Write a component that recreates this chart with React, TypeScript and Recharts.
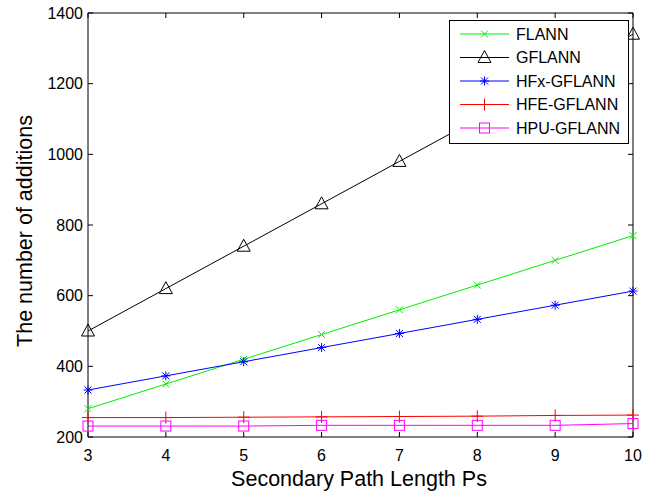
import React from "react"
import { LineChart, Line, XAxis, YAxis, Legend, ReferenceLine } from "recharts"

const ps = [3, 4, 5, 6, 7, 8, 9, 10]
const flann = [280, 350, 420, 490, 560, 630, 700, 770]
const gflann = [500, 620, 740, 860, 980, 1100, 1220, 1340]
const hfx = [333, 373, 413, 453, 493, 533, 573, 613]
const hfe = [255, 255, 256, 257, 258, 259, 261, 262]
const hpu = [231, 231, 231, 233, 233, 233, 233, 238]

const xTicks = [3, 4, 5, 6, 7, 8, 9, 10]
const yTicks = [200, 400, 600, 800, 1000, 1200, 1400]

const series = [
  { key: "flann", name: "FLANN", color: "#00ee00", marker: "x", values: flann },
  { key: "gflann", name: "GFLANN", color: "#000000", marker: "triangle", values: gflann },
  { key: "hfx", name: "HFx-GFLANN", color: "#0000ff", marker: "asterisk", values: hfx },
  { key: "hfe", name: "HFE-GFLANN", color: "#ff0000", marker: "plus", values: hfe },
  { key: "hpu", name: "HPU-GFLANN", color: "#ff00ff", marker: "square", values: hpu },
]

const data = ps.map((p, i) => {
  const row: any = { ps: p }
  series.forEach((s) => (row[s.key] = s.values[i]))
  return row
})

const W = 656
const H = 494
const PLOT_TOP = 13
const PLOT_LEFT = 88
const PLOT_RIGHT = 633
const PLOT_BOTTOM = 437
const FONT = "Arial, 'Liberation Sans', sans-serif"

function Marker({ kind, cx, cy, color }: any) {
  if (cx == null || cy == null) return null
  const p = { stroke: color, strokeWidth: 1, fill: "none" }
  switch (kind) {
    case "x":
      return (
        <g {...p}>
          <line x1={cx - 3.5} y1={cy - 3.5} x2={cx + 3.5} y2={cy + 3.5} />
          <line x1={cx - 3.5} y1={cy + 3.5} x2={cx + 3.5} y2={cy - 3.5} />
        </g>
      )
    case "triangle":
      return <polygon {...p} points={`${cx},${cy - 7} ${cx - 6.5},${cy + 5} ${cx + 6.5},${cy + 5}`} />
    case "asterisk":
      return (
        <g {...p}>
          <line x1={cx - 4.5} y1={cy} x2={cx + 4.5} y2={cy} />
          <line x1={cx} y1={cy - 4.5} x2={cx} y2={cy + 4.5} />
          <line x1={cx - 3.5} y1={cy - 3.5} x2={cx + 3.5} y2={cy + 3.5} />
          <line x1={cx - 3.5} y1={cy + 3.5} x2={cx + 3.5} y2={cy - 3.5} />
        </g>
      )
    case "plus":
      return (
        <g {...p}>
          <line x1={cx - 6} y1={cy} x2={cx + 6} y2={cy} />
          <line x1={cx} y1={cy - 6} x2={cx} y2={cy + 6} />
        </g>
      )
    case "square":
      return <rect {...p} x={cx - 5} y={cy - 5} width={10} height={10} />
  }
  return null
}

function XTick({ x, y, payload }: any) {
  return (
    <g>
      <line x1={x} y1={PLOT_BOTTOM} x2={x} y2={PLOT_BOTTOM - 5} stroke="#000" />
      <line x1={x} y1={PLOT_TOP} x2={x} y2={PLOT_TOP + 5} stroke="#000" />
      <text x={x} y={y + 24} textAnchor="middle" fontSize={16} fontFamily={FONT} fill="#000">
        {payload.value}
      </text>
    </g>
  )
}

function YTick({ x, y, payload }: any) {
  return (
    <g>
      <line x1={PLOT_LEFT} y1={y} x2={PLOT_LEFT + 5} y2={y} stroke="#000" />
      <line x1={PLOT_RIGHT} y1={y} x2={PLOT_RIGHT - 5} y2={y} stroke="#000" />
      <text x={x - 5} y={y + 5.5} textAnchor="end" fontSize={16} fontFamily={FONT} fill="#000">
        {payload.value}
      </text>
    </g>
  )
}

function LegendBox() {
  return (
    <svg width={180} height={124} style={{ display: "block" }}>
      <rect x={0.5} y={0.5} width={179} height={123} fill="#fff" stroke="#000" />
      {series.map((s, i) => {
        const cy = 14 + i * 23.5
        return (
          <g key={s.key}>
            <line x1={11} y1={cy} x2={60} y2={cy} stroke={s.color} />
            <Marker kind={s.marker} cx={35.5} cy={cy} color={s.color} />
            <text x={67} y={cy + 5.5} fontSize={16} fontFamily={FONT} fill="#000">
              {s.name}
            </text>
          </g>
        )
      })}
    </svg>
  )
}

export default function App() {
  return (
    <div style={{ position: "absolute", left: 0, top: 0, width: W, height: H, background: "#fff" }}>
      <LineChart
        width={W}
        height={H}
        data={data}
        margin={{ top: PLOT_TOP, right: W - PLOT_RIGHT, left: 0, bottom: 0 }}
      >
        <XAxis
          dataKey="ps"
          type="number"
          domain={[3, 10]}
          ticks={xTicks}
          height={H - PLOT_BOTTOM}
          tickSize={0}
          tickMargin={0}
          tick={<XTick />}
          axisLine={{ stroke: "#000" }}
          label={{
            content: () => (
              <text x={359} y={486} textAnchor="middle" fontSize={21.5} fontFamily={FONT} fill="#000">
                Secondary Path Length Ps
              </text>
            ),
          }}
        />
        <YAxis
          type="number"
          domain={[200, 1400]}
          ticks={yTicks}
          width={PLOT_LEFT}
          tickSize={0}
          tickMargin={0}
          tick={<YTick />}
          axisLine={{ stroke: "#000" }}
          label={{
            content: () => (
              <text
                x={32}
                y={231}
                transform="rotate(-90 32 231)"
                textAnchor="middle"
                fontSize={21.5}
                fontFamily={FONT}
                fill="#000"
              >
                The number of additions
              </text>
            ),
          }}
        />
        <ReferenceLine y={1400} stroke="#000" ifOverflow="visible" />
        <ReferenceLine x={10} stroke="#000" ifOverflow="visible" />
        {series.map((s) => (
          <Line
            key={s.key}
            dataKey={s.key}
            name={s.name}
            stroke={s.color}
            strokeWidth={1}
            isAnimationActive={false}
            dot={(props: any) => (
              <Marker key={`${s.key}-${props.index}`} kind={s.marker} cx={props.cx} cy={props.cy} color={s.color} />
            )}
            activeDot={false}
          />
        ))}
        <Legend
          layout="vertical"
          align="center"
          verticalAlign="middle"
          content={() => <LegendBox />}
          wrapperStyle={{ left: 449, top: 20, width: 180, height: 124 }}
        />
      </LineChart>
    </div>
  )
}
